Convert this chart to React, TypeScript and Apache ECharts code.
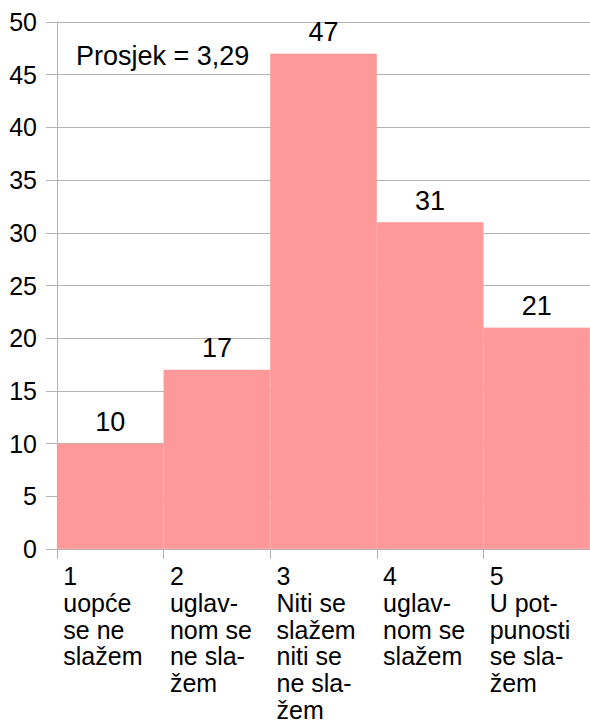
import React, { useEffect, useRef } from "react";
import * as echarts from "echarts";

const categories = [
  "1\nuopće\nse ne\nslažem",
  "2\nuglav-\nnom se\nne sla-\nžem",
  "3\nNiti se\nslažem\nniti se\nne sla-\nžem",
  "4\nuglav-\nnom se\nslažem",
  "5\nU pot-\npunosti\nse sla-\nžem",
];
const values = [10, 17, 47, 31, 21];
const annotation = "Prosjek = 3,29";

const FONT = "Liberation Sans, Arial, sans-serif";

export default function App() {
  const ref = useRef<HTMLDivElement>(null);
  useEffect(() => {
    if (!ref.current) return;
    const chart = echarts.init(ref.current, undefined, { renderer: "svg" });
    chart.setOption({
      animation: false,
      backgroundColor: "#ffffff",
      textStyle: { fontFamily: FONT },
      grid: { left: 57, top: 22, width: 538, bottom: 175, containLabel: false },
      xAxis: {
        type: "category",
        data: categories,
        boundaryGap: true,
        axisLine: { show: true, lineStyle: { color: "#b3b3b3", width: 1 } },
        axisTick: { show: true, length: 10, alignWithLabel: false, lineStyle: { color: "#b3b3b3" } },
        axisLabel: {
          interval: 0,
          margin: 14,
          color: "#000",
          fontFamily: FONT,
          fontSize: 25,
          formatter: (v: string) =>
            v
              .split("\n")
              .map((l) => `{a|${l}}`)
              .join("\n"),
          rich: {
            a: { width: 94, align: "left", fontSize: 25, lineHeight: 26.7, fontFamily: FONT, color: "#000" },
          },
        },
      },
      yAxis: {
        type: "value",
        min: 0,
        max: 50,
        interval: 5,
        axisLine: { show: true, lineStyle: { color: "#b3b3b3", width: 1 } },
        axisTick: { show: true, length: 11, lineStyle: { color: "#b3b3b3" } },
        axisLabel: { color: "#000", fontSize: 25, fontFamily: FONT, margin: 20 },
        splitLine: { show: true, lineStyle: { color: "#b3b3b3", width: 1 } },
      },
      series: [
        {
          type: "bar",
          data: values,
          barWidth: "100%",
          barCategoryGap: 0,
          itemStyle: { color: "#ff9999", borderColor: "#ff9999", borderWidth: 0.6 },
          label: {
            show: true,
            position: "top",
            distance: 8,
            color: "#000",
            fontSize: 27,
            fontFamily: FONT,
          },
        },
      ],
      graphic: [
        {
          type: "text",
          left: 76,
          top: 42,
          style: { text: annotation, fill: "#000", fontSize: 27, fontFamily: FONT },
        },
      ],
    });
    return () => chart.dispose();
  }, []);
  return (
    <div
      ref={ref}
      style={{ position: "fixed", left: 0, top: 0, width: 590, height: 724, background: "#fff" }}
    />
  );
}
